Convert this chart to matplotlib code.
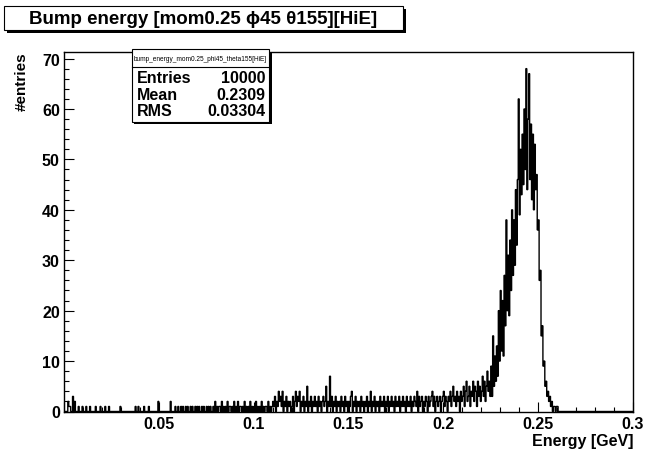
import numpy as np
import matplotlib.pyplot as plt
from matplotlib.patches import Rectangle
from matplotlib.ticker import MultipleLocator

W, H = 646, 452

# histogram binning
x_min, x_max = 0.0, 0.3
bin_width = 0.0005

# counts, 0.0005 wide bins
counts_low = [  # 0 - 0.11
    0, 0, 0, 0, 2, 1, 1, 0, 0, 3, 0, 2, 0, 0, 0, 1, 0, 0, 0, 1,
    0, 0, 0, 1, 0, 0, 0, 1, 0, 0, 0, 0, 0, 1, 0, 0, 0, 0, 1, 0,
    0, 0, 0, 1, 0, 0, 0, 1, 0, 0, 0, 0, 0, 0, 0, 0, 0, 0, 0, 1,
    0, 0, 0, 0, 0, 0, 0, 0, 0, 0, 0, 0, 0, 0, 0, 1, 0, 0, 1, 0,
    0, 0, 0, 0, 1, 0, 0, 0, 0, 1, 0, 0, 0, 0, 0, 0, 0, 0, 0, 2,
    0, 0, 0, 0, 0, 0, 0, 0, 0, 0, 0, 0, 2, 0, 0, 0, 0, 1, 0, 0,
    1, 0, 0, 1, 0, 1, 0, 0, 1, 0, 1, 0, 0, 1, 0, 1, 0, 0, 1, 0,
    1, 0, 1, 0, 0, 1, 0, 1, 0, 0, 1, 0, 1, 0, 1, 0, 0, 1, 0, 2,
    0, 1, 0, 1, 1, 0, 2, 0, 1, 0, 1, 0, 2, 0, 1, 1, 0, 1, 0, 2,
    0, 1, 0, 2, 0, 1, 1, 0, 1, 0, 2, 0, 1, 0, 1, 0, 2, 0, 1, 0,
    1, 0, 2, 0, 1, 0, 1, 0, 2, 0, 1, 0, 1, 1, 0, 2, 0, 1, 0, 1,
]
counts_mid = [  # 0.11 - 0.225
    2, 1, 3, 0, 2, 1, 4, 2, 3, 1, 4, 0, 2, 1, 3, 0, 2, 1, 2, 0,
    1, 3, 0, 2, 4, 1, 3, 2, 4, 0, 2, 1, 3, 0, 2, 1, 5, 0, 2, 1,
    3, 0, 2, 1, 3, 1, 2, 0, 3, 1, 2, 0, 2, 3, 1, 2, 5, 0, 2, 1,
    7, 1, 3, 0, 2, 1, 3, 0, 2, 1, 2, 0, 3, 1, 2, 0, 3, 1, 2, 0,
    2, 1, 3, 4, 0, 2, 1, 3, 0, 2, 1, 2, 0, 3, 1, 2, 0, 2, 1, 3,
    0, 2, 1, 4, 0, 2, 1, 3, 0, 2, 1, 2, 0, 3, 1, 2, 1, 3, 0, 2,
    1, 3, 0, 2, 1, 3, 1, 2, 0, 3, 1, 2, 1, 3, 0, 2, 1, 3, 1, 2,
    0, 3, 1, 2, 1, 3, 0, 2, 1, 3, 2, 1, 4, 0, 3, 1, 2, 3, 0, 2,
    1, 3, 2, 0, 3, 1, 2, 3, 4, 1, 3, 0, 2, 3, 1, 2, 3, 0, 2, 3,
    4, 1, 3, 2, 0, 3, 2, 4, 1, 3, 5, 2, 3, 1, 4, 2, 3, 0, 4, 2,
    3, 5, 1, 4, 6, 2, 3, 5, 1, 4, 3, 6, 2, 5, 4, 1, 6, 3, 5, 2,
    4, 7, 3, 6, 2, 5, 8, 4, 6, 3,
]
counts_peak = [  # 0.225 - 0.261
    9, 3, 15, 5, 11, 6, 13, 7, 20, 10,
    24, 12, 22, 11, 27, 17, 38, 20, 31, 19,
    34, 24, 40, 27, 38, 29, 44, 33, 46, 62,
    39, 52, 43, 55, 45, 60, 48, 68, 44, 58,
    67, 46, 57, 42, 55, 40, 53, 44, 47, 36,
    38, 26, 28, 15, 17, 9, 10, 5, 6, 3,
    4, 2, 3, 1, 2, 0, 1, 1, 0, 1,
    1, 0,
]

n_bins = int(round((x_max - x_min) / bin_width))
counts = np.zeros(n_bins)
filled = counts_low + counts_mid + counts_peak
counts[:len(filled)] = filled
edges = np.linspace(x_min, x_max, n_bins + 1)

title = "Bump energy [mom0.25 \u03d545 \u03b8155][HiE]"
stats_name = "bump_energy_mom0.25_phi45_theta155[HiE]"
stats_keys = ["Entries", "Mean", "RMS"]
stats_vals = ["10000", "0.2309", "0.03304"]

x_ticks = [0.0, 0.05, 0.1, 0.15, 0.2, 0.25, 0.3]
x_labels = ["", "0.05", "0.1", "0.15", "0.2", "0.25", "0.3"]
y_ticks = [0, 10, 20, 30, 40, 50, 60, 70]
y_max = 71.4

plt.rcParams['font.family'] = ['Liberation Sans', 'DejaVu Sans']
plt.rcParams['font.weight'] = 'bold'


def fx(px):
    return px / W


def fy(py):
    return 1 - py / H


fig = plt.figure(figsize=(W / 100, H / 100), dpi=100)
ax = fig.add_axes([fx(64), fy(412.5), fx(633) - fx(64), fy(52.5) - fy(412.5)])

ax.stairs(counts, edges, color='black', linewidth=1.0)

ax.set_xlim(x_min, x_max)
ax.set_ylim(0, y_max)
ax.set_xticks(x_ticks)
ax.set_xticklabels(x_labels)
ax.set_yticks(y_ticks)
ax.set_yticklabels([str(v) for v in y_ticks])
ax.xaxis.set_minor_locator(MultipleLocator(0.01))
ax.yaxis.set_minor_locator(MultipleLocator(2))
ax.tick_params(which='both', direction='in', top=False, right=False, width=0.8)
ax.tick_params(which='major', length=7.5, labelsize=11.5)
ax.tick_params(axis='x', which='major', pad=3)
ax.tick_params(axis='y', which='major', pad=3)
ax.tick_params(which='minor', length=3.8)
for s in ax.spines.values():
    s.set_linewidth(1.0)

fig.text(fx(633), fy(442), "Energy [GeV]", ha='right', va='center', fontsize=11.5)
fig.text(fx(22), fy(52), "#entries", rotation=90, ha='center', va='top', fontsize=11)

# title box with shadow
tx0, ty0, tx1, ty1 = 4, 7, 403, 31
fig.add_artist(Rectangle((fx(tx0 + 3), fy(ty1 + 3)), fx(tx1) - fx(tx0), fy(ty0) - fy(ty1),
                         transform=fig.transFigure, facecolor='black', edgecolor='black', lw=0))
fig.add_artist(Rectangle((fx(tx0), fy(ty1)), fx(tx1) - fx(tx0), fy(ty0) - fy(ty1),
                         transform=fig.transFigure, facecolor='white', edgecolor='black', lw=0.8))
fig.text(fx((tx0 + tx1) / 2), fy((ty0 + ty1) / 2), title, ha='center', va='center', fontsize=13.5)

# stats box
sx0, sy0, sx1, sy1 = 131.5, 50, 269, 122.5
fig.add_artist(Rectangle((fx(sx0 + 2.5), fy(sy1 + 2.5)), fx(sx1) - fx(sx0), fy(sy0) - fy(sy1),
                         transform=fig.transFigure, facecolor='black', edgecolor='black', lw=0))
fig.add_artist(Rectangle((fx(sx0), fy(sy1)), fx(sx1) - fx(sx0), fy(sy0) - fy(sy1),
                         transform=fig.transFigure, facecolor='white', edgecolor='black', lw=0.8))
fig.add_artist(plt.Line2D([fx(sx0), fx(sx1)], [fy(68.3), fy(68.3)], transform=fig.transFigure,
                          color='black', lw=0.8))
fig.text(fx((sx0 + sx1) / 2), fy(59.5), stats_name, ha='center', va='center',
         fontsize=4.7, fontweight='normal')
for k, (key, val) in enumerate(zip(stats_keys, stats_vals)):
    yc = 78.3 + k * 16.7
    fig.text(fx(136.5), fy(yc), key, ha='left', va='center', fontsize=11.5)
    fig.text(fx(265), fy(yc), val, ha='right', va='center', fontsize=11.5)

fig.savefig("out.png", dpi=100)
